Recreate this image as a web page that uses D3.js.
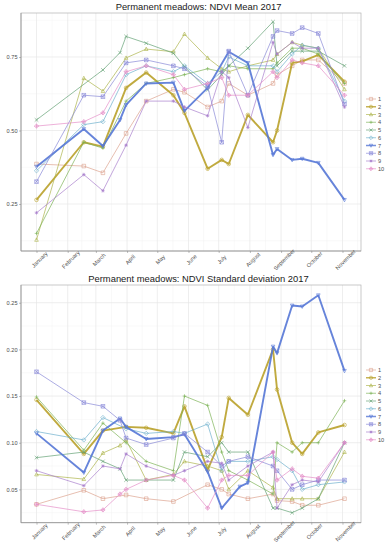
<!DOCTYPE html>
<html>
<head>
<meta charset="utf-8">
<script src="https://cdn.jsdelivr.net/npm/d3@7"></script>
<style>
  body { margin: 0; background: #fff; }
  svg { display: block; font-family: "Liberation Sans", Arial, sans-serif; }
</style>
</head>
<body>
<svg id="chart" width="387" height="550"></svg>
<script>
// acquisition dates (2017)
var dates = ["2017-01-01","2017-02-17","2017-03-08","2017-03-25","2017-03-31","2017-04-20",
  "2017-05-17","2017-05-28","2017-06-20","2017-07-04","2017-07-11","2017-07-22","2017-07-30",
  "2017-08-24","2017-08-28","2017-09-12","2017-09-22","2017-10-08","2017-11-03"];

var seriesNames = ["1","2","3","4","5","6","7","8","9","10"];
var months = ["January","February","March","April","May","June","July","August","September","October","November"];

// NDVI mean per parcel
var mean1  = [0.386,0.379,0.356,null,0.49,0.60,0.64,0.63,0.58,0.60,0.66,null,0.62,0.66,0.69,0.72,0.74,0.74,0.66];
var mean2  = [0.264,0.46,0.445,null,0.645,0.697,0.62,0.56,0.37,0.40,0.386,null,0.553,0.46,0.50,0.73,0.735,0.757,0.666];
var mean3  = [0.128,0.678,0.634,null,0.747,0.777,0.768,0.828,0.747,0.71,0.70,null,0.72,0.74,0.76,0.80,0.79,0.78,0.64];
var mean4  = [0.15,0.46,0.44,null,0.60,0.66,0.68,0.69,0.71,0.70,0.72,null,0.71,0.71,0.73,0.78,0.78,0.76,0.66];
var mean5  = [0.536,null,0.706,0.765,0.82,0.797,0.763,0.717,0.638,0.69,0.72,null,0.78,0.87,0.72,0.77,0.77,0.77,0.72];
var mean6  = [0.363,0.52,0.53,null,0.69,0.72,0.70,0.72,0.66,0.70,0.75,null,0.72,0.72,0.70,0.76,0.79,0.78,0.60];
var mean7  = [0.377,0.505,0.447,0.536,0.587,0.66,0.663,0.567,0.645,null,0.768,null,0.73,0.417,0.437,0.40,0.404,0.39,0.264];
var mean8  = [0.326,0.62,0.615,null,0.73,0.74,0.72,0.71,0.65,0.46,0.77,null,0.62,0.82,0.84,0.83,0.85,0.83,0.59];
var mean9  = [0.22,0.35,0.295,null,0.45,0.60,0.60,0.58,0.55,0.70,0.68,null,0.51,0.80,0.76,0.80,0.78,0.78,0.58];
var mean10 = [0.515,0.53,0.56,null,0.70,0.72,0.69,0.64,0.66,0.68,0.62,null,0.62,0.70,0.68,0.74,0.73,0.72,0.62];

// NDVI standard deviation per parcel
var sd1  = [0.034,0.049,0.040,null,0.044,0.040,0.037,null,0.055,0.050,0.045,null,0.040,0.045,0.038,0.037,0.033,0.033,0.040];
var sd2  = [0.146,0.088,0.113,null,0.117,0.116,0.110,0.139,0.071,0.106,0.148,null,0.130,0.200,0.157,0.100,0.088,0.111,0.119];
var sd3  = [0.066,0.061,0.089,0.097,0.103,0.060,0.066,0.080,0.075,0.070,0.050,null,0.070,0.052,0.040,0.040,0.040,0.040,0.090];
var sd4  = [0.149,0.092,0.121,null,0.100,0.080,0.070,0.150,0.140,0.090,0.070,null,0.060,0.045,0.100,0.090,0.100,0.100,0.145];
var sd5  = [0.084,0.090,0.080,0.072,0.060,0.060,0.060,0.090,0.085,0.100,0.090,null,0.090,0.030,0.030,0.025,0.030,0.040,0.100];
var sd6  = [0.112,0.103,0.127,null,0.115,0.110,0.112,0.110,0.120,0.070,0.080,null,0.080,0.085,0.082,0.070,0.050,0.055,0.058];
var sd7  = [0.110,0.068,0.113,0.126,0.117,0.104,0.106,0.109,0.069,0.030,null,0.053,0.057,0.203,0.196,0.247,0.246,0.258,0.177];
var sd8  = [0.176,0.143,0.139,0.124,0.105,0.098,0.105,0.110,0.090,0.075,0.080,null,0.085,0.075,0.070,0.050,0.055,0.060,0.060];
var sd9  = [0.070,0.054,0.075,0.072,0.088,0.075,0.065,0.070,0.080,0.078,0.060,null,0.075,0.090,0.030,0.055,0.060,0.058,0.100];
var sd10 = [0.034,0.026,0.028,0.045,0.050,0.060,0.065,0.060,0.030,0.060,0.065,null,0.065,0.090,0.060,0.072,0.064,0.062,0.100];

var meanTicks = [0.25, 0.50, 0.75];
var sdTicks = [0.05, 0.10, 0.15, 0.20, 0.25];

var colors = ["#DBA08C","#B9A12A","#AAB245","#79B152","#5F9F70","#6AAECB","#5577D6","#8585D6","#A67BCB","#E48CC6"];
var shapes = ["square","circle","triangle","plus","cross","diamond","triangleDown","squareCross","asterisk","diamondPlus"];
var thick = {"2": true, "7": true};

var parse = d3.timeParse("%Y-%m-%d");
var dateObjs = dates.map(parse);

var svg = d3.select("#chart");

var x = d3.scaleTime()
  .domain([parse("2017-01-01"), parse("2017-11-04")])
  .range([36.5, 345.5]);
var panelLeft = 21, panelRight = 361;

function markerPath(shape, s) {
  var h = s / 2;
  switch (shape) {
    case "square": return "M" + -h + "," + -h + "h" + s + "v" + s + "h" + -s + "Z";
    case "circle": return d3.symbol(d3.symbolCircle, s * s * 0.8)();
    case "triangle": return "M0," + (-h * 1.1) + "L" + h + "," + h * 0.8 + "L" + -h + "," + h * 0.8 + "Z";
    case "triangleDown": return "M0," + (h * 1.1) + "L" + h + "," + -h * 0.8 + "L" + -h + "," + -h * 0.8 + "Z";
    case "plus": return "M" + -h + ",0H" + h + "M0," + -h + "V" + h;
    case "cross": return "M" + -h + "," + -h + "L" + h + "," + h + "M" + -h + "," + h + "L" + h + "," + -h;
    case "diamond": return "M0," + -h * 1.2 + "L" + h * 1.2 + ",0L0," + h * 1.2 + "L" + -h * 1.2 + ",0Z";
    case "squareCross": return "M" + -h + "," + -h + "h" + s + "v" + s + "h" + -s + "Z" +
      "M" + -h + "," + -h + "L" + h + "," + h + "M" + -h + "," + h + "L" + h + "," + -h;
    case "asterisk": return "M" + -h + ",0H" + h + "M0," + -h + "V" + h +
      "M" + -h * 0.7 + "," + -h * 0.7 + "L" + h * 0.7 + "," + h * 0.7 + "M" + -h * 0.7 + "," + h * 0.7 + "L" + h * 0.7 + "," + -h * 0.7;
    case "diamondPlus": return "M0," + -h * 1.2 + "L" + h * 1.2 + ",0L0," + h * 1.2 + "L" + -h * 1.2 + ",0Z" +
      "M" + -h * 1.2 + ",0H" + h * 1.2 + "M0," + -h * 1.2 + "V" + h * 1.2;
  }
}

function drawPanel(cfg) {
  var y = d3.scaleLinear().domain(cfg.domain).range([cfg.bottom, cfg.top]);
  var g = svg.append("g");

  // grid: minor then major
  var monthTicks = d3.timeMonth.range(parse("2017-01-01"), parse("2017-11-05"));
  var minorX = [parse("2016-12-16")].concat(monthTicks.map(function(d) {
    return new Date((+d + +d3.timeMonth.offset(d, 1)) / 2);
  })).filter(function(d) { return x(d) >= panelLeft && x(d) <= panelRight; });
  var step = cfg.ticks[1] - cfg.ticks[0];
  var minorY = d3.range(cfg.ticks[0] - step / 2, cfg.domain[1], step)
    .filter(function(v) { return v > cfg.domain[0]; });

  g.selectAll(".mx").data(minorX).enter().append("line")
    .attr("x1", function(d) { return x(d); }).attr("x2", function(d) { return x(d); })
    .attr("y1", cfg.top).attr("y2", cfg.bottom)
    .attr("stroke", "#F2F2F2").attr("stroke-width", 0.5);
  g.selectAll(".my").data(minorY).enter().append("line")
    .attr("x1", panelLeft).attr("x2", panelRight)
    .attr("y1", function(d) { return y(d); }).attr("y2", function(d) { return y(d); })
    .attr("stroke", "#F2F2F2").attr("stroke-width", 0.5);
  g.selectAll(".Mx").data(monthTicks).enter().append("line")
    .attr("x1", function(d) { return x(d); }).attr("x2", function(d) { return x(d); })
    .attr("y1", cfg.top).attr("y2", cfg.bottom)
    .attr("stroke", "#E6E6E6").attr("stroke-width", 0.7);
  g.selectAll(".My").data(cfg.ticks).enter().append("line")
    .attr("x1", panelLeft).attr("x2", panelRight)
    .attr("y1", function(d) { return y(d); }).attr("y2", function(d) { return y(d); })
    .attr("stroke", "#E6E6E6").attr("stroke-width", 0.7);

  // lines and markers
  cfg.series.forEach(function(vals, i) {
    var pts = vals.map(function(v, j) { return {d: dateObjs[j], v: v}; })
      .filter(function(p) { return p.v !== null; });
    var name = seriesNames[i];
    var line = d3.line().x(function(p) { return x(p.d); }).y(function(p) { return y(p.v); });
    g.append("path").datum(pts)
      .attr("d", line)
      .attr("fill", "none")
      .attr("stroke", colors[i])
      .attr("stroke-opacity", 0.9)
      .attr("stroke-width", thick[name] ? 1.9 : 0.75)
      .attr("stroke-linejoin", "round");
    g.selectAll(null).data(pts).enter().append("path")
      .attr("transform", function(p) { return "translate(" + x(p.d) + "," + y(p.v) + ")"; })
      .attr("d", markerPath(shapes[i], 3.6))
      .attr("fill", "none")
      .attr("stroke", colors[i])
      .attr("stroke-width", 0.6);
  });

  // border
  g.append("rect")
    .attr("x", panelLeft).attr("y", cfg.top)
    .attr("width", panelRight - panelLeft).attr("height", cfg.bottom - cfg.top)
    .attr("fill", "none").attr("stroke", "#B3B3B3").attr("stroke-width", 0.7);
  g.append("line")
    .attr("x1", panelLeft).attr("x2", panelLeft).attr("y1", cfg.top).attr("y2", cfg.bottom)
    .attr("stroke", "#8C8C8C").attr("stroke-width", 0.7);
  g.append("line")
    .attr("x1", panelLeft).attr("x2", panelRight).attr("y1", cfg.bottom).attr("y2", cfg.bottom)
    .attr("stroke", "#8C8C8C").attr("stroke-width", 0.7);

  // y axis
  var yAxis = d3.axisLeft(y).tickValues(cfg.ticks).tickSize(2).tickPadding(1.5)
    .tickFormat(d3.format(".2f"));
  var ya = g.append("g").attr("transform", "translate(" + panelLeft + ",0)").call(yAxis);
  ya.select(".domain").remove();
  ya.selectAll("line").attr("stroke", "#7F7F7F").attr("stroke-width", 0.5);
  ya.selectAll("text").attr("font-size", 5.6).attr("fill", "#4D4D4D")
    .attr("font-family", "Liberation Sans, Arial, sans-serif");

  // x axis
  var xAxis = d3.axisBottom(x).tickValues(monthTicks).tickSize(2).tickFormat(function(d, i) { return months[i]; });
  var xa = g.append("g").attr("transform", "translate(0," + cfg.bottom + ")").call(xAxis);
  xa.select(".domain").remove();
  xa.selectAll("line").attr("stroke", "#7F7F7F").attr("stroke-width", 0.5);
  xa.selectAll("text")
    .attr("font-size", 5.6).attr("fill", "#4D4D4D")
    .attr("font-family", "Liberation Sans, Arial, sans-serif")
    .attr("text-anchor", "middle")
    .attr("dy", 0)
    .attr("y", 0)
    .attr("transform", "translate(4,10) rotate(-45)");

  // title
  svg.append("text")
    .attr("x", 198.5).attr("y", cfg.top - 3.5)
    .attr("text-anchor", "middle")
    .attr("font-size", 9.4)
    .attr("fill", "#1A1A1A")
    .text(cfg.title);

  // legend
  var lg = svg.append("g").attr("transform", "translate(366," + cfg.legendTop + ")");
  seriesNames.forEach(function(n, i) {
    var row = lg.append("g").attr("transform", "translate(0," + i * 7.75 + ")");
    row.append("line").attr("x1", 0).attr("x2", 10).attr("y1", 0).attr("y2", 0)
      .attr("stroke", colors[i]).attr("stroke-width", thick[n] ? 1.5 : 0.8).attr("stroke-opacity", 0.8);
    row.append("path").attr("transform", "translate(5,0)")
      .attr("d", markerPath(shapes[i], 3.2))
      .attr("fill", "none").attr("stroke", colors[i]).attr("stroke-width", 0.6);
    row.append("text").attr("x", 12).attr("y", 2)
      .attr("font-size", 5.6).attr("fill", "#4D4D4D").text(n);
  });
}

drawPanel({
  title: "Permanent meadows: NDVI Mean 2017",
  top: 13, bottom: 251,
  domain: [0.0901, 0.8997],
  ticks: meanTicks,
  series: [mean1, mean2, mean3, mean4, mean5, mean6, mean7, mean8, mean9, mean10],
  legendTop: 99
});

drawPanel({
  title: "Permanent meadows: NDVI Standard deviation 2017",
  top: 285, bottom: 522.7,
  domain: [0.0143, 0.2690],
  ticks: sdTicks,
  series: [sd1, sd2, sd3, sd4, sd5, sd6, sd7, sd8, sd9, sd10],
  legendTop: 370
});
</script>
</body>
</html>
